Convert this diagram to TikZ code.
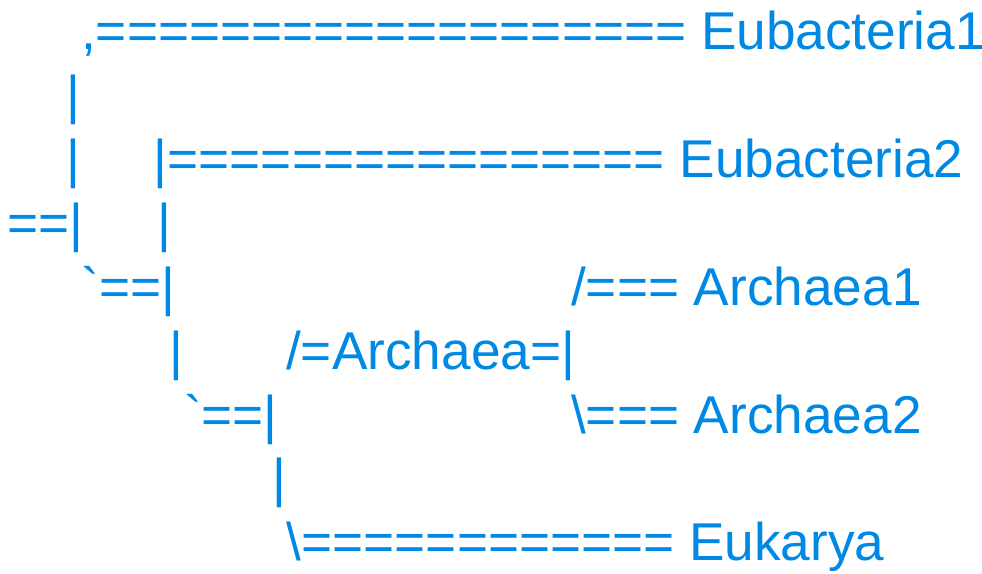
\documentclass[tikz,border=0pt]{standalone}
\usepackage{fontspec}
\setmainfont{Liberation Sans}[Ligatures=TeXOff]
\definecolor{asciiblue}{RGB}{0,136,229}
\begin{document}
\begin{tikzpicture}[x=1pt,y=1pt,
  txt/.style={anchor=base west, inner sep=0pt, outer sep=0pt, text=asciiblue,
    font=\fontsize{53.2}{60}\selectfont}]
\useasboundingbox (0,0) rectangle (982,-573);
% line 1
\node[txt] (l1) at (81.2,-49.6) {,=================== Eubacteria\makebox[0.45em][l]{1}};
% line 2
\node[txt] (l2) at (66.9,-113.5) {|};
% line 3
\node[txt] (l3a) at (66.9,-177.4) {|};
\node[txt] (l3b) at (153.9,-177.4) {|================ Eubacteria2};
% line 4
\node[txt] (l4a) at (7.7,-241.3) {==|};
\node[txt] (l4b) at (157.9,-241.3) {|};
% line 5
\node[txt] (l5a) at (81.7,-305.2) {\symbol{96}==|};
\node[txt] (l5b) at (571.2,-305.2) {/=== Archaea1};
% line 6
\node[txt] (l6a) at (169.6,-369.1) {|};
\node[txt] (l6b) at (286.2,-369.1) {/=Archaea=|};
% line 7
\node[txt] (l7a) at (184.0,-433.0) {\symbol{96}==|};
\node[txt] (l7b) at (571.2,-433.0) {\textbackslash=== Archaea2};
% line 8
\node[txt] (l8) at (272.1,-496.9) {|};
% line 9
\node[txt] (l9) at (286.9,-560.8) {\textbackslash============ Eukarya};
\end{tikzpicture}
\end{document}
